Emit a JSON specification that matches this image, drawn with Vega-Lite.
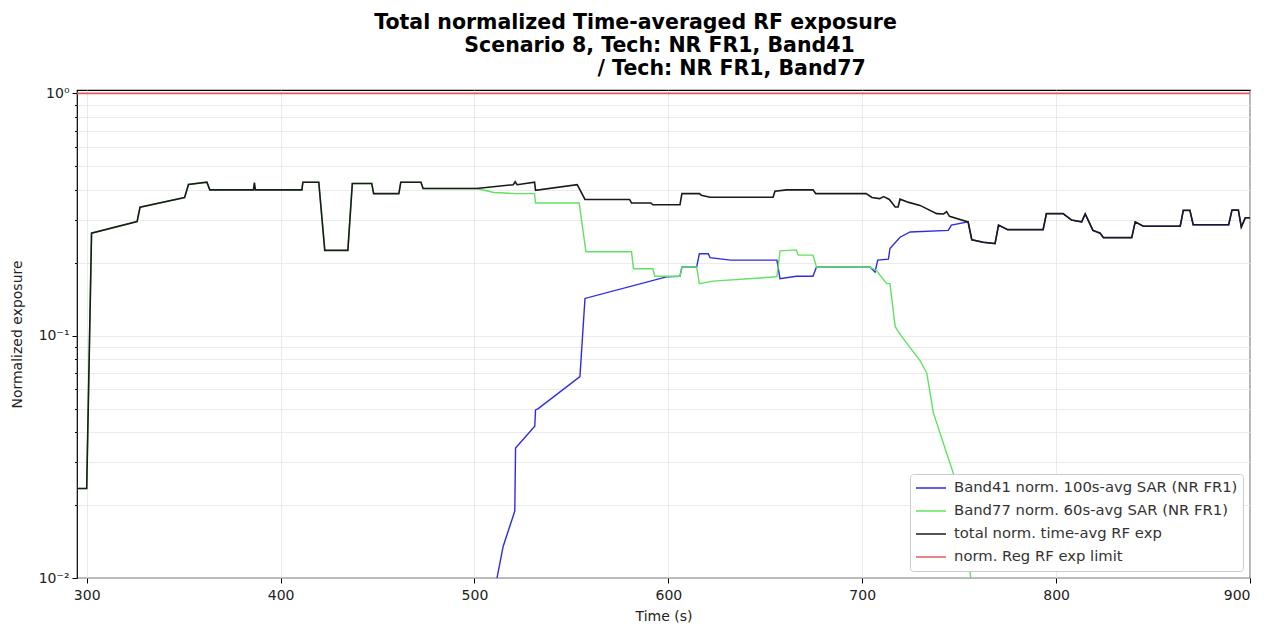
{
  "$schema": "https://vega.github.io/schema/vega-lite/v6.json",
  "autosize": "none",
  "width": 1173,
  "height": 488,
  "padding": {"left": 77, "top": 90, "right": 20, "bottom": 46},
  "background": "white",
  "config": {
    "font": "DejaVu Sans",
    "view": {"stroke": "#000", "strokeWidth": 1.2},
    "axis": {"labelFont": "DejaVu Sans", "titleFont": "DejaVu Sans", "labelColor": "#222", "titleColor": "#222", "labelFontSize": 14, "titleFontSize": 14, "titleFontWeight": "normal", "domain": false, "tickColor": "#000", "gridColor": "#e6e6e6", "gridWidth": 0.8}
  },
  "title": {
    "text": ["Total normalized Time-averaged RF exposure", "\u2800\u2800\u2800Scenario 8, Tech: NR FR1, Band41", "\u2800\u2800\u2800\u2800\u2800\u2800\u2800\u2800\u2800\u2800\u2800\u2800/ Tech: NR FR1, Band77"],
    "font": "DejaVu Sans",
    "fontSize": 20.5,
    "fontWeight": "bold",
    "color": "#000",
    "anchor": "middle",
    "dx": -28,
    "baseline": "bottom",
    "lineHeight": 23,
    "offset": -13
  },
  "data": {"values": [
    {"t": 295, "v": 1.0, "series": "norm. Reg RF exp limit"},
    {"t": 900, "v": 1.0, "series": "norm. Reg RF exp limit"},

    {"t": 510.5, "v": 0.009, "series": "Band41 norm. 100s-avg SAR (NR FR1)"},
    {"t": 514.8, "v": 0.0135, "series": "Band41 norm. 100s-avg SAR (NR FR1)"},
    {"t": 520.8, "v": 0.0189, "series": "Band41 norm. 100s-avg SAR (NR FR1)"},
    {"t": 521.2, "v": 0.0344, "series": "Band41 norm. 100s-avg SAR (NR FR1)"},
    {"t": 531.1, "v": 0.0423, "series": "Band41 norm. 100s-avg SAR (NR FR1)"},
    {"t": 531.5, "v": 0.0494, "series": "Band41 norm. 100s-avg SAR (NR FR1)"},
    {"t": 532.9, "v": 0.05, "series": "Band41 norm. 100s-avg SAR (NR FR1)"},
    {"t": 554.4, "v": 0.0678, "series": "Band41 norm. 100s-avg SAR (NR FR1)"},
    {"t": 557, "v": 0.1425, "series": "Band41 norm. 100s-avg SAR (NR FR1)"},
    {"t": 599, "v": 0.175, "series": "Band41 norm. 100s-avg SAR (NR FR1)"},
    {"t": 606, "v": 0.176, "series": "Band41 norm. 100s-avg SAR (NR FR1)"},
    {"t": 607, "v": 0.192, "series": "Band41 norm. 100s-avg SAR (NR FR1)"},
    {"t": 614.6, "v": 0.192, "series": "Band41 norm. 100s-avg SAR (NR FR1)"},
    {"t": 616, "v": 0.218, "series": "Band41 norm. 100s-avg SAR (NR FR1)"},
    {"t": 620.6, "v": 0.218, "series": "Band41 norm. 100s-avg SAR (NR FR1)"},
    {"t": 621.5, "v": 0.21, "series": "Band41 norm. 100s-avg SAR (NR FR1)"},
    {"t": 632, "v": 0.205, "series": "Band41 norm. 100s-avg SAR (NR FR1)"},
    {"t": 656, "v": 0.205, "series": "Band41 norm. 100s-avg SAR (NR FR1)"},
    {"t": 657.6, "v": 0.172, "series": "Band41 norm. 100s-avg SAR (NR FR1)"},
    {"t": 666, "v": 0.176, "series": "Band41 norm. 100s-avg SAR (NR FR1)"},
    {"t": 674.6, "v": 0.176, "series": "Band41 norm. 100s-avg SAR (NR FR1)"},
    {"t": 676.4, "v": 0.192, "series": "Band41 norm. 100s-avg SAR (NR FR1)"},
    {"t": 704, "v": 0.192, "series": "Band41 norm. 100s-avg SAR (NR FR1)"},
    {"t": 706.6, "v": 0.183, "series": "Band41 norm. 100s-avg SAR (NR FR1)"},
    {"t": 708, "v": 0.205, "series": "Band41 norm. 100s-avg SAR (NR FR1)"},
    {"t": 713.5, "v": 0.207, "series": "Band41 norm. 100s-avg SAR (NR FR1)"},
    {"t": 714.3, "v": 0.229, "series": "Band41 norm. 100s-avg SAR (NR FR1)"},
    {"t": 719.5, "v": 0.255, "series": "Band41 norm. 100s-avg SAR (NR FR1)"},
    {"t": 724.7, "v": 0.268, "series": "Band41 norm. 100s-avg SAR (NR FR1)"},
    {"t": 744.4, "v": 0.272, "series": "Band41 norm. 100s-avg SAR (NR FR1)"},
    {"t": 746, "v": 0.286, "series": "Band41 norm. 100s-avg SAR (NR FR1)"},
    {"t": 754.6, "v": 0.295, "series": "Band41 norm. 100s-avg SAR (NR FR1)"},
    {"t": 756.5, "v": 0.249, "series": "Band41 norm. 100s-avg SAR (NR FR1)"},
    {"t": 762.4, "v": 0.243, "series": "Band41 norm. 100s-avg SAR (NR FR1)"},
    {"t": 768.5, "v": 0.24, "series": "Band41 norm. 100s-avg SAR (NR FR1)"},
    {"t": 770.3, "v": 0.286, "series": "Band41 norm. 100s-avg SAR (NR FR1)"},
    {"t": 775, "v": 0.274, "series": "Band41 norm. 100s-avg SAR (NR FR1)"},
    {"t": 793.3, "v": 0.274, "series": "Band41 norm. 100s-avg SAR (NR FR1)"},
    {"t": 795, "v": 0.319, "series": "Band41 norm. 100s-avg SAR (NR FR1)"},
    {"t": 803.6, "v": 0.319, "series": "Band41 norm. 100s-avg SAR (NR FR1)"},
    {"t": 808, "v": 0.3, "series": "Band41 norm. 100s-avg SAR (NR FR1)"},
    {"t": 813.2, "v": 0.295, "series": "Band41 norm. 100s-avg SAR (NR FR1)"},
    {"t": 815, "v": 0.318, "series": "Band41 norm. 100s-avg SAR (NR FR1)"},
    {"t": 816.5, "v": 0.3, "series": "Band41 norm. 100s-avg SAR (NR FR1)"},
    {"t": 819, "v": 0.272, "series": "Band41 norm. 100s-avg SAR (NR FR1)"},
    {"t": 822.7, "v": 0.265, "series": "Band41 norm. 100s-avg SAR (NR FR1)"},
    {"t": 824.4, "v": 0.254, "series": "Band41 norm. 100s-avg SAR (NR FR1)"},
    {"t": 839, "v": 0.254, "series": "Band41 norm. 100s-avg SAR (NR FR1)"},
    {"t": 840.8, "v": 0.295, "series": "Band41 norm. 100s-avg SAR (NR FR1)"},
    {"t": 845, "v": 0.283, "series": "Band41 norm. 100s-avg SAR (NR FR1)"},
    {"t": 864, "v": 0.283, "series": "Band41 norm. 100s-avg SAR (NR FR1)"},
    {"t": 865.6, "v": 0.329, "series": "Band41 norm. 100s-avg SAR (NR FR1)"},
    {"t": 869, "v": 0.329, "series": "Band41 norm. 100s-avg SAR (NR FR1)"},
    {"t": 870.7, "v": 0.287, "series": "Band41 norm. 100s-avg SAR (NR FR1)"},
    {"t": 889, "v": 0.287, "series": "Band41 norm. 100s-avg SAR (NR FR1)"},
    {"t": 890.7, "v": 0.33, "series": "Band41 norm. 100s-avg SAR (NR FR1)"},
    {"t": 894, "v": 0.33, "series": "Band41 norm. 100s-avg SAR (NR FR1)"},
    {"t": 895.5, "v": 0.281, "series": "Band41 norm. 100s-avg SAR (NR FR1)"},
    {"t": 897.6, "v": 0.307, "series": "Band41 norm. 100s-avg SAR (NR FR1)"},
    {"t": 900, "v": 0.307, "series": "Band41 norm. 100s-avg SAR (NR FR1)"},

    {"t": 295, "v": 0.0234, "series": "Band77 norm. 60s-avg SAR (NR FR1)"},
    {"t": 300, "v": 0.0234, "series": "Band77 norm. 60s-avg SAR (NR FR1)"},
    {"t": 302.5, "v": 0.265, "series": "Band77 norm. 60s-avg SAR (NR FR1)"},
    {"t": 326, "v": 0.296, "series": "Band77 norm. 60s-avg SAR (NR FR1)"},
    {"t": 327.5, "v": 0.339, "series": "Band77 norm. 60s-avg SAR (NR FR1)"},
    {"t": 350.5, "v": 0.372, "series": "Band77 norm. 60s-avg SAR (NR FR1)"},
    {"t": 352.5, "v": 0.421, "series": "Band77 norm. 60s-avg SAR (NR FR1)"},
    {"t": 362, "v": 0.43, "series": "Band77 norm. 60s-avg SAR (NR FR1)"},
    {"t": 363.5, "v": 0.4, "series": "Band77 norm. 60s-avg SAR (NR FR1)"},
    {"t": 411, "v": 0.4, "series": "Band77 norm. 60s-avg SAR (NR FR1)"},
    {"t": 411.5, "v": 0.43, "series": "Band77 norm. 60s-avg SAR (NR FR1)"},
    {"t": 419.7, "v": 0.43, "series": "Band77 norm. 60s-avg SAR (NR FR1)"},
    {"t": 422.8, "v": 0.225, "series": "Band77 norm. 60s-avg SAR (NR FR1)"},
    {"t": 434.7, "v": 0.225, "series": "Band77 norm. 60s-avg SAR (NR FR1)"},
    {"t": 437, "v": 0.425, "series": "Band77 norm. 60s-avg SAR (NR FR1)"},
    {"t": 447, "v": 0.425, "series": "Band77 norm. 60s-avg SAR (NR FR1)"},
    {"t": 448, "v": 0.386, "series": "Band77 norm. 60s-avg SAR (NR FR1)"},
    {"t": 461, "v": 0.386, "series": "Band77 norm. 60s-avg SAR (NR FR1)"},
    {"t": 462, "v": 0.43, "series": "Band77 norm. 60s-avg SAR (NR FR1)"},
    {"t": 472.4, "v": 0.43, "series": "Band77 norm. 60s-avg SAR (NR FR1)"},
    {"t": 473.5, "v": 0.405, "series": "Band77 norm. 60s-avg SAR (NR FR1)"},
    {"t": 501, "v": 0.405, "series": "Band77 norm. 60s-avg SAR (NR FR1)"},
    {"t": 510, "v": 0.39, "series": "Band77 norm. 60s-avg SAR (NR FR1)"},
    {"t": 521, "v": 0.386, "series": "Band77 norm. 60s-avg SAR (NR FR1)"},
    {"t": 531, "v": 0.386, "series": "Band77 norm. 60s-avg SAR (NR FR1)"},
    {"t": 531.5, "v": 0.353, "series": "Band77 norm. 60s-avg SAR (NR FR1)"},
    {"t": 554, "v": 0.353, "series": "Band77 norm. 60s-avg SAR (NR FR1)"},
    {"t": 557.5, "v": 0.222, "series": "Band77 norm. 60s-avg SAR (NR FR1)"},
    {"t": 581, "v": 0.222, "series": "Band77 norm. 60s-avg SAR (NR FR1)"},
    {"t": 582, "v": 0.189, "series": "Band77 norm. 60s-avg SAR (NR FR1)"},
    {"t": 592, "v": 0.189, "series": "Band77 norm. 60s-avg SAR (NR FR1)"},
    {"t": 593, "v": 0.176, "series": "Band77 norm. 60s-avg SAR (NR FR1)"},
    {"t": 606, "v": 0.176, "series": "Band77 norm. 60s-avg SAR (NR FR1)"},
    {"t": 607, "v": 0.192, "series": "Band77 norm. 60s-avg SAR (NR FR1)"},
    {"t": 614.6, "v": 0.192, "series": "Band77 norm. 60s-avg SAR (NR FR1)"},
    {"t": 616, "v": 0.164, "series": "Band77 norm. 60s-avg SAR (NR FR1)"},
    {"t": 623, "v": 0.168, "series": "Band77 norm. 60s-avg SAR (NR FR1)"},
    {"t": 656, "v": 0.175, "series": "Band77 norm. 60s-avg SAR (NR FR1)"},
    {"t": 657.6, "v": 0.224, "series": "Band77 norm. 60s-avg SAR (NR FR1)"},
    {"t": 666, "v": 0.226, "series": "Band77 norm. 60s-avg SAR (NR FR1)"},
    {"t": 667, "v": 0.215, "series": "Band77 norm. 60s-avg SAR (NR FR1)"},
    {"t": 674.6, "v": 0.215, "series": "Band77 norm. 60s-avg SAR (NR FR1)"},
    {"t": 676.4, "v": 0.192, "series": "Band77 norm. 60s-avg SAR (NR FR1)"},
    {"t": 704, "v": 0.192, "series": "Band77 norm. 60s-avg SAR (NR FR1)"},
    {"t": 707.5, "v": 0.185, "series": "Band77 norm. 60s-avg SAR (NR FR1)"},
    {"t": 712.6, "v": 0.164, "series": "Band77 norm. 60s-avg SAR (NR FR1)"},
    {"t": 714.3, "v": 0.164, "series": "Band77 norm. 60s-avg SAR (NR FR1)"},
    {"t": 717, "v": 0.109, "series": "Band77 norm. 60s-avg SAR (NR FR1)"},
    {"t": 720, "v": 0.1, "series": "Band77 norm. 60s-avg SAR (NR FR1)"},
    {"t": 729.8, "v": 0.079, "series": "Band77 norm. 60s-avg SAR (NR FR1)"},
    {"t": 733.3, "v": 0.07, "series": "Band77 norm. 60s-avg SAR (NR FR1)"},
    {"t": 736.7, "v": 0.048, "series": "Band77 norm. 60s-avg SAR (NR FR1)"},
    {"t": 747, "v": 0.027, "series": "Band77 norm. 60s-avg SAR (NR FR1)"},
    {"t": 752, "v": 0.018, "series": "Band77 norm. 60s-avg SAR (NR FR1)"},
    {"t": 756, "v": 0.01, "series": "Band77 norm. 60s-avg SAR (NR FR1)"},
    {"t": 758, "v": 0.007, "series": "Band77 norm. 60s-avg SAR (NR FR1)"},

    {"t": 295, "v": 0.0234, "series": "total norm. time-avg RF exp"},
    {"t": 300, "v": 0.0234, "series": "total norm. time-avg RF exp"},
    {"t": 302.5, "v": 0.265, "series": "total norm. time-avg RF exp"},
    {"t": 326, "v": 0.296, "series": "total norm. time-avg RF exp"},
    {"t": 327.5, "v": 0.339, "series": "total norm. time-avg RF exp"},
    {"t": 350.5, "v": 0.372, "series": "total norm. time-avg RF exp"},
    {"t": 352.5, "v": 0.421, "series": "total norm. time-avg RF exp"},
    {"t": 362, "v": 0.43, "series": "total norm. time-avg RF exp"},
    {"t": 363.5, "v": 0.4, "series": "total norm. time-avg RF exp"},
    {"t": 386, "v": 0.4, "series": "total norm. time-avg RF exp"},
    {"t": 386.5, "v": 0.428, "series": "total norm. time-avg RF exp"},
    {"t": 387, "v": 0.4, "series": "total norm. time-avg RF exp"},
    {"t": 411, "v": 0.4, "series": "total norm. time-avg RF exp"},
    {"t": 411.5, "v": 0.43, "series": "total norm. time-avg RF exp"},
    {"t": 419.7, "v": 0.43, "series": "total norm. time-avg RF exp"},
    {"t": 422.8, "v": 0.225, "series": "total norm. time-avg RF exp"},
    {"t": 434.7, "v": 0.225, "series": "total norm. time-avg RF exp"},
    {"t": 437, "v": 0.425, "series": "total norm. time-avg RF exp"},
    {"t": 447, "v": 0.425, "series": "total norm. time-avg RF exp"},
    {"t": 448, "v": 0.386, "series": "total norm. time-avg RF exp"},
    {"t": 461, "v": 0.386, "series": "total norm. time-avg RF exp"},
    {"t": 462, "v": 0.43, "series": "total norm. time-avg RF exp"},
    {"t": 472.4, "v": 0.43, "series": "total norm. time-avg RF exp"},
    {"t": 473.5, "v": 0.405, "series": "total norm. time-avg RF exp"},
    {"t": 501, "v": 0.405, "series": "total norm. time-avg RF exp"},
    {"t": 520, "v": 0.42, "series": "total norm. time-avg RF exp"},
    {"t": 521, "v": 0.432, "series": "total norm. time-avg RF exp"},
    {"t": 522, "v": 0.42, "series": "total norm. time-avg RF exp"},
    {"t": 531, "v": 0.43, "series": "total norm. time-avg RF exp"},
    {"t": 531.5, "v": 0.398, "series": "total norm. time-avg RF exp"},
    {"t": 553, "v": 0.42, "series": "total norm. time-avg RF exp"},
    {"t": 557, "v": 0.365, "series": "total norm. time-avg RF exp"},
    {"t": 580, "v": 0.365, "series": "total norm. time-avg RF exp"},
    {"t": 581, "v": 0.353, "series": "total norm. time-avg RF exp"},
    {"t": 591, "v": 0.353, "series": "total norm. time-avg RF exp"},
    {"t": 592, "v": 0.347, "series": "total norm. time-avg RF exp"},
    {"t": 606, "v": 0.347, "series": "total norm. time-avg RF exp"},
    {"t": 607, "v": 0.386, "series": "total norm. time-avg RF exp"},
    {"t": 616, "v": 0.386, "series": "total norm. time-avg RF exp"},
    {"t": 617, "v": 0.38, "series": "total norm. time-avg RF exp"},
    {"t": 621.5, "v": 0.373, "series": "total norm. time-avg RF exp"},
    {"t": 654, "v": 0.373, "series": "total norm. time-avg RF exp"},
    {"t": 655, "v": 0.395, "series": "total norm. time-avg RF exp"},
    {"t": 661, "v": 0.4, "series": "total norm. time-avg RF exp"},
    {"t": 674.6, "v": 0.4, "series": "total norm. time-avg RF exp"},
    {"t": 676, "v": 0.386, "series": "total norm. time-avg RF exp"},
    {"t": 702, "v": 0.386, "series": "total norm. time-avg RF exp"},
    {"t": 705, "v": 0.372, "series": "total norm. time-avg RF exp"},
    {"t": 709, "v": 0.368, "series": "total norm. time-avg RF exp"},
    {"t": 711, "v": 0.375, "series": "total norm. time-avg RF exp"},
    {"t": 714, "v": 0.365, "series": "total norm. time-avg RF exp"},
    {"t": 717, "v": 0.34, "series": "total norm. time-avg RF exp"},
    {"t": 718.5, "v": 0.34, "series": "total norm. time-avg RF exp"},
    {"t": 719.5, "v": 0.366, "series": "total norm. time-avg RF exp"},
    {"t": 724, "v": 0.355, "series": "total norm. time-avg RF exp"},
    {"t": 729.8, "v": 0.345, "series": "total norm. time-avg RF exp"},
    {"t": 738.4, "v": 0.319, "series": "total norm. time-avg RF exp"},
    {"t": 742, "v": 0.318, "series": "total norm. time-avg RF exp"},
    {"t": 743.5, "v": 0.325, "series": "total norm. time-avg RF exp"},
    {"t": 745, "v": 0.311, "series": "total norm. time-avg RF exp"},
    {"t": 754.6, "v": 0.295, "series": "total norm. time-avg RF exp"},
    {"t": 756.5, "v": 0.249, "series": "total norm. time-avg RF exp"},
    {"t": 762.4, "v": 0.243, "series": "total norm. time-avg RF exp"},
    {"t": 768.5, "v": 0.24, "series": "total norm. time-avg RF exp"},
    {"t": 770.3, "v": 0.286, "series": "total norm. time-avg RF exp"},
    {"t": 775, "v": 0.274, "series": "total norm. time-avg RF exp"},
    {"t": 793.3, "v": 0.274, "series": "total norm. time-avg RF exp"},
    {"t": 795, "v": 0.319, "series": "total norm. time-avg RF exp"},
    {"t": 803.6, "v": 0.319, "series": "total norm. time-avg RF exp"},
    {"t": 808, "v": 0.3, "series": "total norm. time-avg RF exp"},
    {"t": 813.2, "v": 0.295, "series": "total norm. time-avg RF exp"},
    {"t": 815, "v": 0.318, "series": "total norm. time-avg RF exp"},
    {"t": 816.5, "v": 0.3, "series": "total norm. time-avg RF exp"},
    {"t": 819, "v": 0.272, "series": "total norm. time-avg RF exp"},
    {"t": 822.7, "v": 0.265, "series": "total norm. time-avg RF exp"},
    {"t": 824.4, "v": 0.254, "series": "total norm. time-avg RF exp"},
    {"t": 839, "v": 0.254, "series": "total norm. time-avg RF exp"},
    {"t": 840.8, "v": 0.295, "series": "total norm. time-avg RF exp"},
    {"t": 845, "v": 0.283, "series": "total norm. time-avg RF exp"},
    {"t": 864, "v": 0.283, "series": "total norm. time-avg RF exp"},
    {"t": 865.6, "v": 0.329, "series": "total norm. time-avg RF exp"},
    {"t": 869, "v": 0.329, "series": "total norm. time-avg RF exp"},
    {"t": 870.7, "v": 0.287, "series": "total norm. time-avg RF exp"},
    {"t": 889, "v": 0.287, "series": "total norm. time-avg RF exp"},
    {"t": 890.7, "v": 0.33, "series": "total norm. time-avg RF exp"},
    {"t": 894, "v": 0.33, "series": "total norm. time-avg RF exp"},
    {"t": 895.5, "v": 0.281, "series": "total norm. time-avg RF exp"},
    {"t": 897.6, "v": 0.307, "series": "total norm. time-avg RF exp"},
    {"t": 900, "v": 0.307, "series": "total norm. time-avg RF exp"}
  ]},
  "encoding": {
    "x": {"field": "t", "type": "quantitative", "title": "Time (s)",
      "scale": {"domain": [295, 900], "nice": false, "zero": false},
      "axis": {"values": [300, 400, 500, 600, 700, 800, 900], "tickSize": 5, "labelPadding": 5, "titlePadding": 7, "format": "d"}},
    "y": {"field": "v", "type": "quantitative", "title": "Normalized exposure",
      "scale": {"type": "log", "domain": [0.01, 1.033], "nice": false},
      "axis": {
        "values": [0.01, 0.02, 0.03, 0.04, 0.05, 0.06, 0.07, 0.08, 0.09, 0.1, 0.2, 0.3, 0.4, 0.5, 0.6, 0.7, 0.8, 0.9, 1],
        "labelExpr": "datum.value == 1 ? '10\u2070' : datum.value == 0.1 ? '10\u207b\u00b9' : datum.value == 0.01 ? '10\u207b\u00b2' : ''",
        "tickSize": {"condition": {"test": "datum.value == 1 || datum.value == 0.1 || datum.value == 0.01", "value": 5}, "value": 2.5},
        "labelPadding": 3, "titlePadding": 14}},
    "color": {"field": "series", "type": "nominal", "title": null,
      "scale": {"domain": ["Band41 norm. 100s-avg SAR (NR FR1)", "Band77 norm. 60s-avg SAR (NR FR1)", "total norm. time-avg RF exp", "norm. Reg RF exp limit"],
                "range": ["#2c2ce6", "#5fe35f", "#1a1a1a", "#e35a5a"]},
      "legend": {"orient": "bottom-right", "offset": 7, "symbolType": "stroke", "symbolSize": 900, "symbolStrokeWidth": 1.5, "clipHeight": 18, "labelFontSize": 14.8, "labelFont": "DejaVu Sans", "labelColor": "#333", "labelLimit": 400, "rowPadding": 5, "padding": 5, "strokeColor": "#cccccc", "fillColor": "white", "cornerRadius": 3, "labelOffset": 7}}
  },
  "layer": [
    {"transform": [{"filter": "datum.series == 'Band41 norm. 100s-avg SAR (NR FR1)'"}], "mark": {"type": "line", "strokeWidth": 1.4, "clip": true}},
    {"transform": [{"filter": "datum.series == 'Band77 norm. 60s-avg SAR (NR FR1)'"}], "mark": {"type": "line", "strokeWidth": 1.4, "clip": true}},
    {"transform": [{"filter": "datum.series == 'total norm. time-avg RF exp'"}], "mark": {"type": "line", "strokeWidth": 1.6, "clip": true}},
    {"transform": [{"filter": "datum.series == 'norm. Reg RF exp limit'"}], "mark": {"type": "line", "strokeWidth": 1.6, "clip": true}}
  ]
}
